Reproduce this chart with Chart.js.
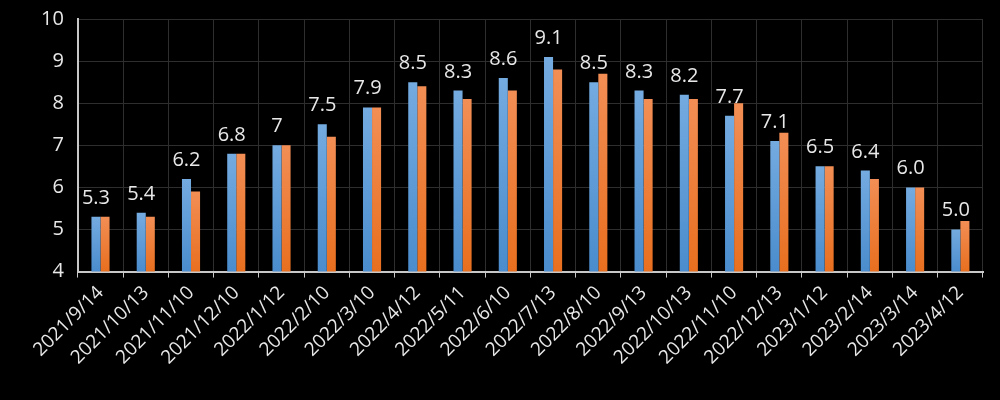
<!DOCTYPE html>
<html>
<head>
<meta charset="utf-8">
<script src="https://cdn.jsdelivr.net/npm/chart.js@4.4.0/dist/chart.umd.min.js"></script>
<style>
  html, body { margin: 0; padding: 0; background: #000; }
  #wrap { width: 1000px; height: 400px; position: relative; }
</style>
</head>
<body>
<div id="wrap"><canvas id="chart"></canvas></div>
<script>
const dates = ['2021/9/14', '2021/10/13', '2021/11/10', '2021/12/10', '2022/1/12', '2022/2/10', '2022/3/10',
    '2022/4/12', '2022/5/11', '2022/6/10', '2022/7/13', '2022/8/10', '2022/9/13', '2022/10/13',
    '2022/11/10', '2022/12/13', '2023/1/12', '2023/2/14', '2023/3/14', '2023/4/12'];
const seriesBlue = [5.3, 5.4, 6.2, 6.8, 7.0, 7.5, 7.9, 8.5, 8.3, 8.6, 9.1, 8.5, 8.3, 8.2, 7.7, 7.1, 6.5, 6.4, 6.0, 5.0];
const seriesOrange = [5.3, 5.3, 5.9, 6.8, 7.0, 7.2, 7.9, 8.4, 8.1, 8.3, 8.8, 8.7, 8.1, 8.1, 8.0, 7.3, 6.5, 6.2, 6.0, 5.2];
const valueLabels = ['5.3', '5.4', '6.2', '6.8', '7', '7.5', '7.9', '8.5', '8.3', '8.6', '9.1', '8.5', '8.3', '8.2',
    '7.7', '7.1', '6.5', '6.4', '6.0', '5.0'];
const yMin = 4;
const yMax = 10;

const fontFamily = '"Open Sans", "DejaVu Sans", sans-serif';
const textColor = '#e8e8e8';

// vertical gradient per bar, from the bar top to the axis
function barGradient(top, bottom) {
    return function(context) {
        const chart = context.chart;
        const y = chart.scales.y;
        if (!y || context.raw === undefined) return bottom;
        const yTop = y.getPixelForValue(context.raw);
        const yBase = y.getPixelForValue(yMin);
        if (!isFinite(yTop) || !isFinite(yBase) || yTop === yBase) return bottom;
        const g = chart.ctx.createLinearGradient(0, yTop, 0, yBase);
        g.addColorStop(0, top);
        g.addColorStop(1, bottom);
        return g;
    };
}

const valueLabelPlugin = {
    id: 'valueLabels',
    afterDatasetsDraw(chart) {
        const ctx = chart.ctx;
        const meta = chart.getDatasetMeta(0);
        ctx.save();
        ctx.font = '20px ' + fontFamily;
        ctx.fillStyle = textColor;
        ctx.textAlign = 'center';
        ctx.textBaseline = 'alphabetic';
        meta.data.forEach(function(bar, i) {
            ctx.fillText(valueLabels[i], bar.x, bar.y - 13);
        });
        ctx.restore();
    }
};

const config = {
    type: 'bar',
    data: {
        labels: dates,
        datasets: [
            {
                label: 'Series 1',
                data: seriesBlue,
                backgroundColor: barGradient('#74abe0', '#4a8ccd'),
                borderWidth: 0,
                categoryPercentage: 0.4,
                barPercentage: 1.0
            },
            {
                label: 'Series 2',
                data: seriesOrange,
                backgroundColor: barGradient('#f28e55', '#e86f1f'),
                borderWidth: 0,
                categoryPercentage: 0.4,
                barPercentage: 1.0
            }
        ]
    },
    options: {
        responsive: true,
        maintainAspectRatio: false,
        animation: false,
        layout: {
            padding: { left: 27, right: 17, top: 19, bottom: 27 }
        },
        plugins: {
            legend: { display: false },
            tooltip: { enabled: false }
        },
        scales: {
            x: {
                offset: true,
                grid: {
                    offset: true,
                    color: '#2e2e2e',
                    tickColor: '#c8c8c8',
                    tickLength: 6,
                    lineWidth: 1
                },
                border: { color: '#c8c8c8', width: 2 },
                ticks: {
                    color: textColor,
                    maxRotation: 45,
                    minRotation: 45,
                    autoSkip: false,
                    padding: 4,
                    font: { family: fontFamily, size: 19 }
                }
            },
            y: {
                min: yMin,
                max: yMax,
                // the top tick label may stick out above the plot, as in the picture
                afterFit: function(scale) {
                    scale.paddingTop = 0;
                },
                grid: {
                    color: '#2e2e2e',
                    drawTicks: false
                },
                border: { color: '#c8c8c8', width: 2 },
                ticks: {
                    stepSize: 1,
                    color: textColor,
                    padding: 14,
                    font: { family: fontFamily, size: 20 }
                }
            }
        }
    },
    plugins: [valueLabelPlugin]
};

new Chart(document.getElementById('chart').getContext('2d'), config);
</script>
</body>
</html>
